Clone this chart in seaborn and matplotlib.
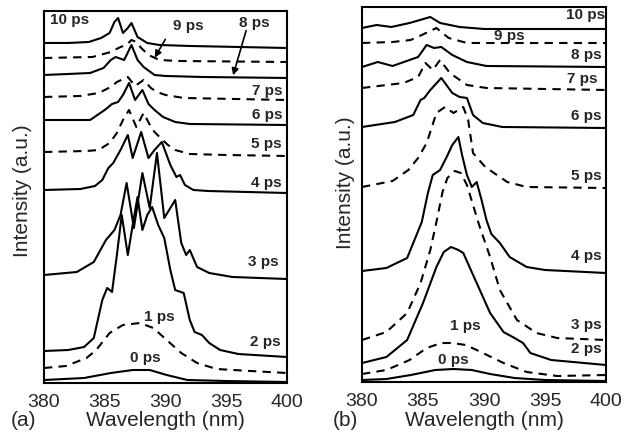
import matplotlib
matplotlib.use("Agg")
import matplotlib.pyplot as plt
import seaborn as sns
import pandas as pd

# time-resolved spectra, stacked with vertical offsets (a.u.)
delays = ["0 ps", "1 ps", "2 ps", "3 ps", "4 ps", "5 ps", "6 ps", "7 ps", "8 ps", "9 ps", "10 ps"]

# panel (a)
a_wl = {
    "0 ps": [380, 383.3, 385.5, 387.3, 388.7, 390.1, 391.8, 395, 400],
    "1 ps": [380, 381.8, 383.5, 384.3, 385.4, 386.5, 387.9, 389.0, 390.1, 391.3, 392.6, 394.2, 397, 400],
    "2 ps": [380, 382, 383.3, 384.1, 384.8, 385.2, 385.6, 386.0, 386.4, 386.9, 387.3, 387.7, 388.1, 388.5,
             388.9, 389.4, 389.9, 390.4, 390.8, 391.5, 392.0, 392.4, 393.0, 393.6, 394.5, 396, 400],
    "3 ps": [380, 382.7, 384.1, 385.1, 385.8, 386.3, 386.8, 387.4, 388.1, 388.7, 389.3, 389.9, 390.8,
             391.3, 391.7, 392.0, 392.6, 393.6, 395.5, 400],
    "4 ps": [380, 383.0, 384.2, 384.8, 385.3, 385.7, 386.3, 386.9, 387.3, 388.0, 388.6, 389.1, 389.7,
             390.4, 390.9, 391.2, 391.6, 392.3, 393.5, 400],
    "5 ps": [380, 383.5, 384.5, 385.4, 386.0, 386.5, 387.0, 387.6, 388.2, 388.8, 389.1, 389.6, 390.2,
             390.8, 392, 395, 400],
    "6 ps": [380, 382, 383.8, 385.0, 385.6, 386.1, 386.5, 387.0, 387.5, 388.1, 388.6, 389.1, 389.8,
             390.8, 392, 400],
    "7 ps": [380, 383, 384.5, 385.5, 386.0, 386.9, 387.5, 388.2, 388.8, 389.3, 390, 391.5, 400],
    "8 ps": [380, 382, 383.8, 384.9, 385.5, 385.9, 386.6, 387.2, 387.7, 388.2, 389.1, 390.0, 393, 400],
    "9 ps": [380, 384, 385.5, 386.3, 386.8, 387.2, 387.6, 388.0, 388.6, 389.5, 391, 400],
    "10 ps": [380, 382, 383.7, 384.7, 385.4, 385.8, 386.1, 386.5, 386.9, 387.2, 387.7, 388.5, 389.5, 392, 400],
}
a_int = {
    "0 ps": [3, 5, 10, 13, 13, 8, 3, 2, 1],
    "1 ps": [15, 17, 25, 33, 50, 58, 60, 55, 43, 30, 20, 14, 12, 10],
    "2 ps": [32, 33, 36, 45, 83, 95, 91, 128, 168, 128, 158, 186, 153, 168,
             176, 158, 145, 113, 93, 90, 63, 51, 48, 40, 33, 29, 26],
    "3 ps": [108, 111, 121, 143, 153, 168, 200, 155, 210, 175, 230, 165, 183,
             140, 128, 133, 116, 110, 106, 104],
    "4 ps": [193, 194, 197, 203, 215, 220, 233, 248, 225, 251, 225, 233, 241,
             218, 206, 208, 198, 193, 192, 190],
    "5 ps": [231, 232, 233, 240, 250, 263, 273, 256, 270, 256, 251, 245, 238,
             233, 229, 228, 227],
    "6 ps": [263, 263, 263, 273, 279, 281, 288, 300, 283, 293, 279, 273, 266,
             261, 259, 258],
    "7 ps": [286, 287, 290, 296, 301, 306, 297, 303, 295, 291, 288, 285, 283],
    "8 ps": [308, 309, 310, 315, 323, 326, 323, 338, 323, 316, 308, 307, 306, 305],
    "9 ps": [325, 326, 331, 336, 338, 343, 341, 335, 328, 323, 322, 321],
    "10 ps": [340, 340, 341, 345, 350, 361, 365, 350, 355, 360, 346, 340, 338, 337, 335],
}

# panel (b)
b_wl = {
    "0 ps": [380, 382, 384, 386, 387.5, 389, 390.5, 392.5, 395, 400],
    "1 ps": [380, 382, 383.9, 385.3, 386.5, 387.4, 388.5, 389.4, 391.6, 393.5, 396, 400],
    "2 ps": [380, 382, 383.7, 385.0, 386.1, 386.7, 387.3, 387.9, 388.3, 389.4, 390.5, 391.6, 392.5,
             393.2, 393.8, 395.5, 400],
    "3 ps": [380, 382, 383.7, 384.8, 385.6, 386.1, 386.6, 387.0, 387.6, 388.1, 388.6, 389.1, 389.6,
             390.5, 391.3, 392.7, 394.3, 396, 400],
    "4 ps": [380, 382, 383.7, 384.9, 385.4, 385.8, 386.4, 386.9, 387.4, 387.9, 388.2, 388.6, 389.0,
             389.4, 389.8, 390.2, 390.6, 391.3, 392.1, 393.5, 395, 400],
    "5 ps": [380, 382.5, 383.8, 384.6, 385.3, 386.1, 386.8, 387.5, 388.3, 388.7, 389.1, 390.1, 391.9,
             393.5, 400],
    "6 ps": [380, 382.7, 384.2, 384.8, 385.1, 385.6, 386.5, 387.4, 388.0, 388.6, 389.1, 389.9, 391.5, 400],
    "7 ps": [380, 383.4, 384.6, 385.2, 385.8, 386.4, 387.2, 388.6, 390.2, 400],
    "8 ps": [380, 381.3, 382.5, 384.6, 385.3, 385.9, 386.5, 387.4, 388.6, 390.2, 400],
    "9 ps": [380, 382.5, 384.0, 384.9, 386.1, 387.1, 388.6, 390, 400],
    "10 ps": [380, 381.2, 382.4, 383.9, 385.6, 386.4, 388.0, 390, 400],
}
b_int = {
    "0 ps": [2, 3, 7, 12, 13, 12, 8, 4, 2, 1],
    "1 ps": [8, 12, 22, 34, 39, 39, 37, 32, 19, 10, 6, 7],
    "2 ps": [19, 25, 42, 79, 115, 130, 135, 132, 129, 99, 69, 50, 44, 39, 29, 22, 17],
    "3 ps": [42, 50, 69, 99, 132, 160, 190, 204, 211, 209, 197, 177, 157, 125, 92, 62, 49, 44, 42],
    "4 ps": [111, 114, 124, 160, 189, 207, 212, 224, 237, 245, 227, 207, 195, 200, 182, 162, 148,
             139, 125, 115, 112, 109],
    "5 ps": [195, 201, 212, 224, 239, 269, 275, 269, 275, 262, 229, 215, 200, 195, 194],
    "6 ps": [255, 260, 267, 282, 284, 292, 304, 289, 285, 284, 267, 259, 255, 254],
    "7 ps": [294, 299, 305, 319, 312, 322, 309, 297, 294, 292],
    "8 ps": [315, 320, 316, 325, 337, 334, 335, 327, 320, 316, 315],
    "9 ps": [339, 340, 342, 347, 354, 344, 339, 339, 339],
    "10 ps": [354, 357, 355, 359, 365, 359, 355, 353, 353],
}

dashed = {"a": ["1 ps", "5 ps", "7 ps", "9 ps"],
          "b": ["1 ps", "3 ps", "5 ps", "7 ps", "9 ps"]}

# label positions (wavelength, a.u.)
a_labels = {"0 ps": (388.3, 25, "center"), "1 ps": (389.5, 66, "center"), "2 ps": (399.5, 41, "right"),
            "3 ps": (399.3, 121, "right"), "4 ps": (399.6, 200, "right"), "5 ps": (399.6, 239, "right"),
            "6 ps": (399.6, 268, "right"), "7 ps": (399.6, 292, "right"), "8 ps": (397.3, 360, "center"),
            "9 ps": (391.9, 357, "center"), "10 ps": (380.5, 363, "left")}
b_labels = {"0 ps": (387.5, 22, "center"), "1 ps": (388.5, 56, "center"), "2 ps": (399.6, 33, "right"),
            "3 ps": (399.6, 57, "right"), "4 ps": (399.6, 126, "right"), "5 ps": (399.6, 206, "right"),
            "6 ps": (399.6, 266, "right"), "7 ps": (399.3, 303, "right"), "8 ps": (399.6, 327, "right"),
            "9 ps": (392.1, 346, "center"), "10 ps": (399.9, 367, "right")}


def draw_panel(ax, wl, inten, dash_list, labels, ymax):
    for d in delays:
        df = pd.DataFrame({"wl": wl[d], "y": inten[d]})
        ls = (0, (4, 3)) if d in dash_list else "-"
        sns.lineplot(data=df, x="wl", y="y", ax=ax, color="black", linewidth=1.5,
                     linestyle=ls, sort=False, estimator=None,
                     solid_joinstyle="round", dash_joinstyle="round")
    for d, (x, y, ha) in labels.items():
        ax.text(x, y, d, ha=ha, va="center", fontsize=11, fontweight="bold")
    ax.set_xlim(380, 400)
    ax.set_ylim(0, ymax)
    ax.set_xticks([380, 385, 390, 395, 400])
    ax.set_yticks([])
    ax.set_xlabel("")
    ax.set_ylabel("")
    ax.tick_params(axis="x", length=0, pad=8, labelsize=14)
    for s in ax.spines.values():
        s.set_visible(True)
        s.set_color("black")
        s.set_linewidth(1.5)


sns.set_theme(style="white")
plt.rcParams["font.family"] = ["Liberation Sans", "DejaVu Sans"]

fig = plt.figure(figsize=(6.31, 4.34), dpi=100)
ax_a = fig.add_axes([0.0697, 0.1175, 0.3851, 0.8572])
ax_b = fig.add_axes([0.5737, 0.1198, 0.3867, 0.8641])

draw_panel(ax_a, a_wl, a_int, dashed["a"], a_labels, 372)
draw_panel(ax_b, b_wl, b_int, dashed["b"], b_labels, 375)

# arrows for 9 ps and 8 ps in panel (a)
ax_a.annotate("", xy=(389.0, 323), xytext=(390.1, 346),
              arrowprops=dict(arrowstyle="-|>", color="black", lw=1.2, mutation_scale=10))
ax_a.annotate("", xy=(395.5, 305), xytext=(396.7, 355),
              arrowprops=dict(arrowstyle="-|>", color="black", lw=1.2, mutation_scale=10))

fig.text(0.035, 0.56, "Intensity (a.u.)", rotation=90, ha="center", va="center", fontsize=15)
fig.text(0.547, 0.58, "Intensity (a.u.)", rotation=90, ha="center", va="center", fontsize=15)
fig.text(0.262, 0.03, "Wavelength (nm)", ha="center", va="center", fontsize=15)
fig.text(0.767, 0.03, "Wavelength (nm)", ha="center", va="center", fontsize=15)
fig.text(0.038, 0.03, "(a)", ha="center", va="center", fontsize=15)
fig.text(0.547, 0.03, "(b)", ha="center", va="center", fontsize=15)

fig.savefig("out.png", dpi=100)
